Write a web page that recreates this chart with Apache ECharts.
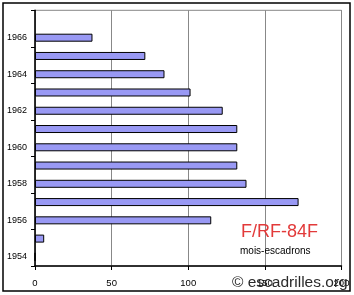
<!DOCTYPE html>
<html><head><meta charset="utf-8">
<script src="https://cdn.jsdelivr.net/npm/echarts@6/dist/echarts.min.js"></script>
<style>html,body{margin:0;padding:0;background:#fff}#c{width:354px;height:295px}</style>
</head><body><div id="c"></div>
<script>
var years = ['1954','1955','1956','1957','1958','1959','1960','1961','1962','1963','1964','1965','1966','1967'];
var values = [0, 6, 115, 172, 138, 132, 132, 132, 122.5, 101.5, 84.5, 72, 37.5, null];
var xTicks = [0, 50, 100, 150, 200];
var title = 'F/RF-84F';
var unit = 'mois-escadrons';
var credit = '\u00a9 escadrilles.org';

var chart = echarts.init(document.getElementById('c'), null, {renderer:'canvas'});
var font = 'Liberation Sans, Arial, sans-serif';
chart.setOption({
  animation:false,
  backgroundColor:'#fff',
  grid:{left:35, right:12.5, top:10.3, bottom:29, show:true, borderColor:'#888', borderWidth:1},
  xAxis:{type:'value', min:xTicks[0], max:xTicks[xTicks.length-1], interval:50,
    axisLine:{show:true, lineStyle:{color:'#000', width:1.5}},
    axisTick:{show:true, length:4, lineStyle:{color:'#000'}},
    splitLine:{show:true, lineStyle:{color:'#888', width:1}},
    axisLabel:{color:'#000', fontFamily:font, fontSize:9.5, margin:12}},
  yAxis:{type:'category', data:years,
    axisLine:{show:true, lineStyle:{color:'#000', width:1.5}},
    axisTick:{show:true, length:4, lineStyle:{color:'#000'}},
    splitLine:{show:false},
    axisLabel:{color:'#000', fontFamily:font, fontSize:9, margin:8, interval:1}},
  series:[{type:'bar', data:values, barWidth:8,
    itemStyle:{color:'#9999f4', borderColor:'#000', borderWidth:1}}],
  graphic:[
    {type:'rect', shape:{x:3, y:3, width:347, height:288}, style:{fill:null, stroke:'#000', lineWidth:1.5}, z:100},
    {type:'text', left:241, top:223, style:{text:title, fill:'#e23a3a', font:'18px '+font}, z:100},
    {type:'text', left:240, top:246, style:{text:unit, fill:'#000', font:'10px '+font}, z:100},
    {type:'text', left:232, top:275, style:{text:credit, fill:'#2a2a2a', font:'15.5px '+font}, z:100}
  ]
});
</script></body></html>
